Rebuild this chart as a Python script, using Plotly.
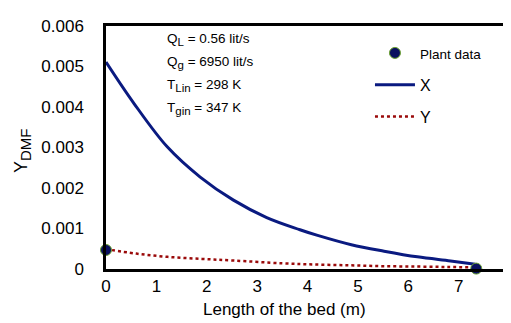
import plotly.graph_objects as go

# X (liquid phase) curve
x_len = [0, 0.56, 1.22, 1.87, 2.53, 3.19, 3.85, 4.2, 4.87, 5.52, 6.18, 6.84, 7.33]
x_val = [0.00511, 0.00408, 0.00301, 0.00227, 0.0017, 0.00127, 0.00097, 0.00083,
         0.0006, 0.00044, 0.0003, 0.0002, 0.00012]

# Y (gas phase) curve
y_len = [0, 0.6, 1.22, 1.9, 2.53, 3.5, 4.2, 4.87, 5.5, 6.18, 6.8, 7.33]
y_val = [0.00049, 0.00038, 0.0003, 0.00025, 0.00021, 0.00014, 0.00011, 0.00009,
         0.00007, 0.00006, 0.00005, 0.00004]

# Plant data
p_len = [0, 7.35]
p_val = [0.00047, 0.00001]

x_ticks = [0, 1, 2, 3, 4, 5, 6, 7, 8]
y_ticks = [0, 0.001, 0.002, 0.003, 0.004, 0.005, 0.006]
y_ticklabels = ["0", "0.001", "0.002", "0.003", "0.004", "0.005", "0.006"]

SUB = "<sub><span style='font-size:11.5px'>{}</span></sub>"
notes = ["Q" + SUB.format("L") + " = 0.56 lit/s",
         "Q" + SUB.format("g") + " = 6950 lit/s",
         "T" + SUB.format("Lin") + " = 298 K",
         "T" + SUB.format("gin") + " = 347 K"]
note_y = [32, 55, 77, 100]  # pixel rows of the note lines (layout only)

FONT = "Liberation Sans, Arial, Helvetica, sans-serif"
PLOT_L, PLOT_R, PLOT_T, PLOT_B = 98, 506, 18, 261
PW, PH = PLOT_R - PLOT_L, PLOT_B - PLOT_T

fig = go.Figure()
fig.add_trace(go.Scatter(x=x_len, y=x_val, mode="lines", name="X",
                         line=dict(color="#0a1a80", width=3, shape="spline"),
                         legendgroup="b", legendrank=2))
fig.add_trace(go.Scatter(x=y_len, y=y_val, mode="lines", name="Y",
                         line=dict(color="#9a0a0a", width=2.5, dash="dot", shape="spline"),
                         legendgroup="c", legendrank=3))
fig.add_trace(go.Scatter(x=p_len, y=p_val, mode="markers",
                         name="<span style='font-size:13.5px'>Plant data</span>",
                         marker=dict(color="#0a1060", size=11,
                                     line=dict(color="#6aa030", width=1)),
                         legendgroup="a", legendrank=1, cliponaxis=False))

for t, py in zip(notes, note_y):
    fig.add_annotation(x=(158 - PLOT_L) / PW, y=(PLOT_B - py) / PH, xref="paper", yref="paper",
                       text=t, showarrow=False, xanchor="left", yanchor="middle",
                       font=dict(size=13.5, color="black", family=FONT))

fig.add_annotation(x=(279 - PLOT_L) / PW, y=(PLOT_B - 301) / PH, xref="paper", yref="paper",
                   text="Length of the bed (m)", showarrow=False,
                   xanchor="center", yanchor="middle",
                   font=dict(size=17, color="black", family=FONT))
fig.add_annotation(x=(13 - PLOT_L) / PW, y=(PLOT_B - 143) / PH, xref="paper", yref="paper",
                   text="Y<sub><span style='font-size:15px'>DMF</span></sub>",
                   showarrow=False, textangle=-90,
                   xanchor="center", yanchor="middle",
                   font=dict(size=18, color="black", family=FONT))

fig.update_layout(
    width=511, height=323,
    margin=dict(l=PLOT_L, r=511 - PLOT_R, t=PLOT_T, b=323 - PLOT_B),
    paper_bgcolor="white", plot_bgcolor="white",
    font=dict(family=FONT, size=15, color="black"),
    showlegend=True,
    legend=dict(x=0.655, y=(PLOT_B - 28) / PH, xanchor="left", yanchor="top",
                bgcolor="rgba(0,0,0,0)", borderwidth=0,
                font=dict(size=16, family=FONT, color="black"),
                tracegroupgap=8, itemwidth=40),
    xaxis=dict(range=[0, 8], tickvals=x_ticks, showgrid=False, zeroline=False,
               showline=True, linecolor="black", linewidth=2.5, mirror=True,
               ticks="", ticklabelstandoff=0, ticklabeloverflow="allow",
               tickfont=dict(size=17, family=FONT, color="black")),
    yaxis=dict(range=[0, 0.006], tickvals=y_ticks, ticktext=y_ticklabels,
               showgrid=False, zeroline=False,
               showline=True, linecolor="black", linewidth=2.5, mirror=True,
               ticks="", ticklabelstandoff=16,
               tickfont=dict(size=17, family=FONT, color="black")),
)

fig.write_html("out.html")
